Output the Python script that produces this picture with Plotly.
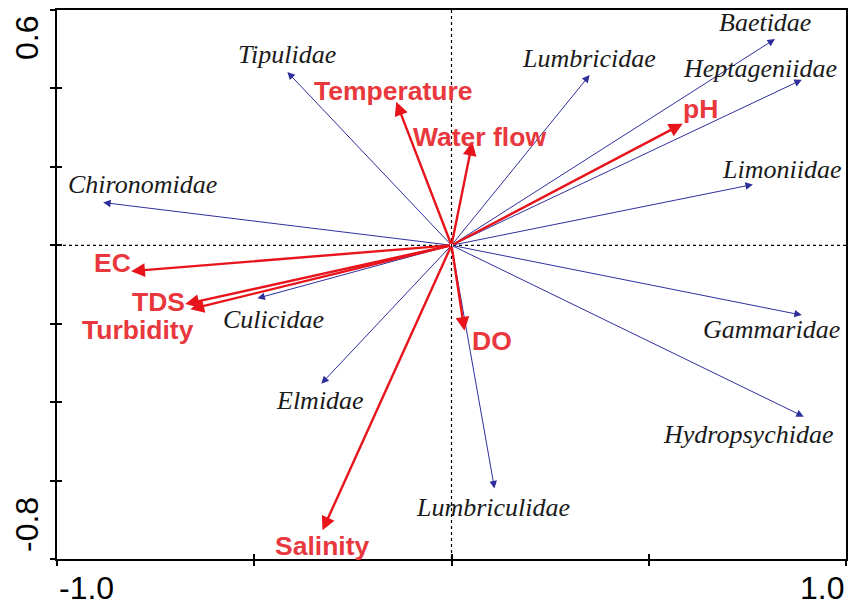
import plotly.graph_objects as go

# ---- data (biplot scores) ----
species = ["Baetidae", "Heptageniidae", "Lumbricidae", "Limoniidae", "Gammaridae",
           "Hydropsychidae", "Lumbriculidae", "Elmidae", "Culicidae", "Chironomidae",
           "Tipulidae"]
species_x = [0.820, 0.888, 0.350, 0.764, 0.888, 0.893, 0.109, -0.330, -0.492, -0.883, -0.416]
species_y = [0.526, 0.422, 0.434, 0.155, -0.178, -0.437, -0.620, -0.353, -0.135, 0.109, 0.442]

env = ["pH", "Temperature", "Water flow", "EC", "TDS", "Turbidity", "DO", "Salinity"]
env_x = [0.586, -0.140, 0.053, -0.812, -0.675, -0.662, 0.033, -0.327]
env_y = [0.310, 0.366, 0.264, -0.066, -0.150, -0.163, -0.218, -0.727]

x_ticks = [-1.0, -0.5, 0.0, 0.5, 1.0]
y_ticks = [-0.8, -0.6, -0.4, -0.2, 0.0, 0.2, 0.4, 0.6]
x_tick_text = ["-1.0", "1.0"]
y_tick_text = ["0.6", "-0.8"]

# ---- label placement (pixel offsets from arrow tip: right, down) ----
label_offsets = {
    "Baetidae": (-10, -17), "Heptageniidae": (-42, -11), "Lumbricidae": (-1, -17),
    "Limoniidae": (29, -15), "Gammaridae": (-30, 14), "Hydropsychidae": (-56, 18),
    "Lumbriculidae": (-2, 19), "Elmidae": (-1, 17), "Culicidae": (16, 21),
    "Chironomidae": (39, -18), "Tipulidae": (0, -17),
    "pH": (18, -15), "Temperature": (-3, -11), "Water flow": (7, -5), "EC": (-19, -8),
    "TDS": (-27, -2), "Turbidity": (-52, 21), "DO": (27, 10), "Salinity": (0, 16),
}

BLUE = "#2f2f9c"
RED = "#e8141c"
RED_TXT = "#e8383d"

fig = go.Figure()
# invisible traces to establish axes
fig.add_trace(go.Scatter(x=[None], y=[None], showlegend=False, hoverinfo="skip"))
fig.add_trace(go.Scatter(x=[None], y=[None], xaxis="x2", yaxis="y2",
                         showlegend=False, hoverinfo="skip"))

annotations = []
for name, x, y in zip(species, species_x, species_y):
    annotations.append(dict(x=x, y=y, ax=0, ay=0, xref="x", yref="y", axref="x", ayref="y",
                            text="", showarrow=True, arrowhead=2, arrowsize=1.5,
                            arrowwidth=1, arrowcolor=BLUE, standoff=0, startstandoff=0))
for name, x, y in zip(env, env_x, env_y):
    annotations.append(dict(x=x, y=y, ax=0, ay=0, xref="x", yref="y", axref="x", ayref="y",
                            text="", showarrow=True, arrowhead=2, arrowsize=1.15,
                            arrowwidth=2.4, arrowcolor=RED, standoff=0, startstandoff=0))
for name, x, y in zip(species, species_x, species_y):
    dx, dy = label_offsets[name]
    annotations.append(dict(x=x, y=y, xref="x", yref="y", text=name, showarrow=False,
                            xshift=dx, yshift=-dy, xanchor="center", yanchor="middle",
                            font=dict(family="Liberation Serif", size=26, color="#1a1a1a",
                                      style="italic")))
for name, x, y in zip(env, env_x, env_y):
    dx, dy = label_offsets[name]
    annotations.append(dict(x=x, y=y, xref="x", yref="y", text="<b>%s</b>" % name,
                            showarrow=False, xshift=dx, yshift=-dy,
                            xanchor="center", yanchor="middle",
                            font=dict(family="Liberation Sans", size=26.5, color=RED_TXT)))

# axis end labels
tick_font = dict(family="Liberation Sans", size=32, color="black")
annotations.append(dict(x=x_ticks[0], y=0, xref="x", yref="paper", text=x_tick_text[0],
                        showarrow=False, xanchor="left", yanchor="middle", yshift=-29,
                        font=tick_font))
annotations.append(dict(x=x_ticks[-1], y=0, xref="x", yref="paper", text=x_tick_text[1],
                        showarrow=False, xanchor="right", yanchor="middle", yshift=-29,
                        font=tick_font))
annotations.append(dict(x=0, y=y_ticks[-1], xref="paper", yref="y", text=y_tick_text[0],
                        showarrow=False, xanchor="center", yanchor="middle", xshift=-30,
                        yshift=-28, textangle=-90, font=tick_font))
annotations.append(dict(x=0, y=y_ticks[0], xref="paper", yref="y", text=y_tick_text[1],
                        showarrow=False, xanchor="center", yanchor="middle", xshift=-30,
                        yshift=34, textangle=-90, font=tick_font))

shapes = [
    dict(type="line", xref="x", yref="paper", x0=0, x1=0, y0=0, y1=1,
         line=dict(color="black", width=1.2, dash="dot"), layer="below"),
    dict(type="line", xref="paper", yref="y", x0=0, x1=1, y0=0, y1=0,
         line=dict(color="black", width=1.2, dash="dot"), layer="below"),
]

xr = [x_ticks[0], x_ticks[-1]]
yr = [y_ticks[0], y_ticks[-1]]
axis_common = dict(showgrid=False, zeroline=False, showline=True, linecolor="black",
                   linewidth=2, mirror=True, ticks="outside", ticklen=5, tickwidth=1.5,
                   tickcolor="black", showticklabels=False)

fig.update_layout(
    width=857, height=607,
    margin=dict(l=57, r=11, t=8, b=48),
    paper_bgcolor="white", plot_bgcolor="white",
    showlegend=False,
    xaxis=dict(range=xr, tickvals=x_ticks, **axis_common),
    yaxis=dict(range=yr, tickvals=y_ticks, **axis_common),
    xaxis2=dict(range=xr, tickvals=x_ticks, overlaying="x", anchor="y2", showgrid=False,
                zeroline=False, showline=False, ticks="inside", ticklen=5, tickwidth=1.5,
                tickcolor="black", showticklabels=False),
    yaxis2=dict(range=yr, tickvals=y_ticks, overlaying="y", anchor="x2", showgrid=False,
                zeroline=False, showline=False, ticks="inside", ticklen=5, tickwidth=1.5,
                tickcolor="black", showticklabels=False),
    annotations=annotations,
    shapes=shapes,
)

fig.write_html("out.html", config={"displayModeBar": False},
               post_script="document.body.style.margin='0';document.body.style.overflow='hidden';")
